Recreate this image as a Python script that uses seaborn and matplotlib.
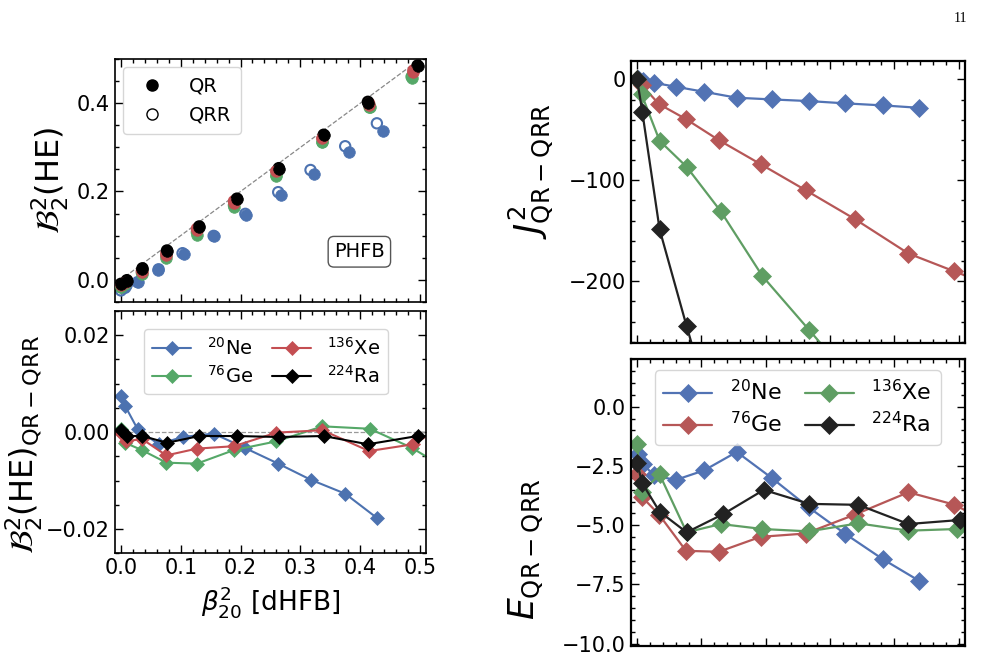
import numpy as np
import matplotlib
matplotlib.use("Agg")
import matplotlib.pyplot as plt
import seaborn as sns
from matplotlib.lines import Line2D
from matplotlib.ticker import MultipleLocator

sns.set_style("ticks")
plt.rcParams['mathtext.fontset'] = 'dejavusans'
plt.rcParams['text.color'] = 'black'
plt.rcParams['axes.labelcolor'] = 'black'
plt.rcParams['xtick.color'] = 'black'
plt.rcParams['ytick.color'] = 'black'

labels = ['$^{20}$Ne', '$^{76}$Ge', '$^{136}$Xe', '$^{224}$Ra']

# ---- left column: beta^2_20 [dHFB] ----
l_ne_x = [0.000, 0.007, 0.028, 0.063, 0.103, 0.155, 0.208, 0.263, 0.317, 0.375, 0.428]
l_ne_x_qr = [0.001, 0.009, 0.028, 0.062, 0.105, 0.156, 0.209, 0.267, 0.323, 0.381, 0.438]
l_ge_x = [0.000, 0.007, 0.035, 0.076, 0.127, 0.189, 0.260, 0.337, 0.416, 0.486, 0.570]
l_xe_x = [0.000, 0.009, 0.035, 0.076, 0.127, 0.189, 0.260, 0.337, 0.415, 0.489, 0.570]
l_ra_x = [0.000, 0.010, 0.036, 0.077, 0.131, 0.194, 0.264, 0.339, 0.413, 0.496, 0.570]

# B^2_2(HE) with QR
ne_qr = [-0.017, -0.013, -0.005, 0.021, 0.059, 0.099, 0.146, 0.192, 0.239, 0.290, 0.337]
ge_qr = [-0.017, -0.010, 0.012, 0.048, 0.101, 0.165, 0.235, 0.313, 0.391, 0.457, 0.530]
xe_qr = [-0.013, -0.006, 0.018, 0.056, 0.112, 0.175, 0.246, 0.321, 0.396, 0.472, 0.540]
ra_qr = [-0.009, -0.002, 0.025, 0.064, 0.120, 0.183, 0.252, 0.328, 0.401, 0.485, 0.560]

# B^2_2(HE)_QR - QRR
ne_d = [0.0075, 0.0054, 0.0006, -0.0025, -0.0010, -0.0003, -0.0033, -0.0065, -0.0098, -0.0127, -0.0177]
ge_d = [0.0006, -0.0022, -0.0037, -0.0063, -0.0065, -0.0037, -0.0019, 0.0012, 0.0007, -0.0032, -0.0095]
xe_d = [-0.0001, -0.0019, -0.0014, -0.0048, -0.0034, -0.0029, -0.0001, 0.0004, -0.0039, -0.0025, 0.0036]
ra_d = [0.0004, -0.0008, -0.0008, -0.0022, -0.0008, -0.0008, -0.0010, -0.0008, -0.0025, -0.0008, -0.0008]

# ---- right column ----
r_ne_x = [0.001, 0.009, 0.026, 0.060, 0.104, 0.155, 0.210, 0.267, 0.324, 0.382, 0.439]
r_ge_x = [0.000, 0.007, 0.034, 0.076, 0.127, 0.192, 0.262, 0.339, 0.422, 0.493, 0.570]
r_xe_x = [0.000, 0.007, 0.035, 0.077, 0.130, 0.195, 0.267, 0.344, 0.422, 0.497, 0.570]
r_ra_x = [0.000, 0.008, 0.035, 0.077, 0.134, 0.197, 0.268, 0.344, 0.422, 0.502]

j_ne = [0, -1.5, -3.4, -7.3, -12.3, -18.2, -19.9, -21.5, -23.8, -25.8, -28.2]
j_ge = [0, -5.6, -24.5, -39.4, -60.2, -84.0, -109.8, -138.6, -172.6, -190.2, -209]
j_xe = [0, -14.9, -60.9, -86.7, -130.7, -195.1, -248.0, -305, np.nan, np.nan, np.nan]
j_ra = [0, -32.1, -148.8, -244.7, -370, np.nan, np.nan, np.nan, np.nan, np.nan]

e_ne = [-2.01, -2.41, -2.90, -3.09, -2.69, -1.91, -3.02, -4.25, -5.37, -6.43, -7.35]
e_ge = [-2.86, -3.79, -4.55, -6.08, -6.12, -5.49, -5.35, -4.55, -3.61, -4.13, -5.2]
e_xe = [-1.59, -3.61, -2.86, -5.30, -4.95, -5.16, -5.26, -4.92, -5.23, -5.16, -5.2]
e_ra = [-2.38, -3.23, -4.43, -5.30, -4.53, -3.51, -4.10, -4.14, -4.95, -4.78]

left_colors = ['#4C72B0', '#55A868', '#C44E52', 'black']
right_colors = ['#5273b4', '#b65757', '#5f9e63', '#222222']

fig = plt.figure(figsize=(9.97, 6.52), dpi=100)
ax1 = fig.add_axes([0.1153, 0.5373, 0.3119, 0.3718])
ax2 = fig.add_axes([0.1153, 0.1514, 0.3119, 0.3716])
ax3 = fig.add_axes([0.6326, 0.4744, 0.3353, 0.4325])
ax4 = fig.add_axes([0.6326, 0.0090, 0.3353, 0.4400])


def style(ax, xmaj, xmin, ymaj, ymin, lw):
    ax.xaxis.set_major_locator(MultipleLocator(xmaj))
    ax.xaxis.set_minor_locator(MultipleLocator(xmin))
    ax.yaxis.set_major_locator(MultipleLocator(ymaj))
    ax.yaxis.set_minor_locator(MultipleLocator(ymin))
    ax.tick_params(which='both', direction='in', top=True, right=True, width=1, labelsize=15)
    ax.tick_params(which='major', length=6)
    ax.tick_params(which='minor', length=3)
    for s in ax.spines.values():
        s.set_linewidth(lw)
        s.set_color('black')


# top left: B^2_2(HE)
left_x = [l_ne_x, l_ge_x, l_xe_x, l_ra_x]
left_qr = [ne_qr, ge_qr, xe_qr, ra_qr]
left_d = [ne_d, ge_d, xe_d, ra_d]
qr_x = [l_ne_x_qr, l_ge_x, l_xe_x, l_ra_x]

ax1.plot([-0.02, 0.52], [-0.02, 0.52], ls='--', color='#888888', lw=0.9, zorder=1)
for x, qr, d, c in zip(left_x, left_qr, left_d, left_colors):
    qrr = np.array(qr) - np.array(d)
    sns.scatterplot(x=x, y=qrr, ax=ax1, s=55, facecolor='none', edgecolor=c, linewidth=1.5, zorder=2)
for x, qr, c in zip(qr_x, left_qr, left_colors):
    sns.scatterplot(x=x, y=qr, ax=ax1, s=70, color=c, edgecolor=c, linewidth=0.5, zorder=3)
ax1.set_xlim(-0.01, 0.51)
ax1.set_ylim(-0.05, 0.5)
style(ax1, 0.1, 0.02, 0.2, 0.05, 1.2)
ax1.set_xticklabels([])
ax1.set_ylabel(r'$\mathcal{B}_2^2$(HE)', fontsize=23)
h = [Line2D([], [], marker='o', ls='', color='black', ms=8),
     Line2D([], [], marker='o', ls='', mfc='none', mec='black', mew=1.0, ms=8)]
ax1.legend(h, ['QR', 'QRR'], loc='upper left', fontsize=14, handletextpad=0.9,
           borderpad=0.5, labelspacing=0.5, borderaxespad=0.4)
ax1.text(0.786, 0.206, 'PHFB', transform=ax1.transAxes, fontsize=14, ha='center', va='center',
         bbox=dict(boxstyle='round,pad=0.3', fc='white', ec='#555555'))

# bottom left: difference
ax2.axhline(0, ls='--', color='#999999', lw=0.9, zorder=1)
for x, d, c, lab in zip(left_x, left_d, left_colors, labels):
    sns.lineplot(x=x, y=d, ax=ax2, color=c, marker='D', markersize=7, mec=c, mew=0.5,
                 lw=1.5, label=lab, sort=False)
ax2.set_xlim(-0.01, 0.51)
ax2.set_ylim(-0.025, 0.025)
style(ax2, 0.1, 0.02, 0.02, 0.005, 1.2)
ax2.set_ylabel(r'$\mathcal{B}_2^2$(HE)$_{\rm QR-QRR}$', fontsize=23)
ax2.yaxis.set_label_coords(-0.225, 0.45)
ax2.set_xlabel(r'$\beta_{20}^2$ [dHFB]', fontsize=19)
ax2.legend(loc='upper center', ncol=2, fontsize=14, handlelength=2.0, columnspacing=1.0,
           labelspacing=0.3, borderpad=0.4, bbox_to_anchor=(0.486, 0.965))

# top right: J^2
right_x = [r_ne_x, r_ge_x, r_xe_x, r_ra_x]
for x, y, c in zip(right_x, [j_ne, j_ge, j_xe, j_ra], right_colors):
    sns.lineplot(x=x, y=y, ax=ax3, color=c, marker='D', markersize=9, mec=c, mew=0.5,
                 lw=1.6, sort=False)
ax3.set_xlim(-0.01, 0.51)
ax3.set_ylim(-261, 18.5)
style(ax3, 0.1, 0.02, 100, 20, 1.6)
ax3.set_xticklabels([])
ax3.set_ylabel(r'$J^2_{\rm QR-QRR}$', fontsize=25)
ax3.yaxis.set_label_coords(-0.225, 0.61)

# bottom right: E
for x, y, c, lab in zip(right_x, [e_ne, e_ge, e_xe, e_ra], right_colors, labels):
    sns.lineplot(x=x, y=y, ax=ax4, color=c, marker='D', markersize=9, mec=c, mew=0.5,
                 lw=1.6, label=lab, sort=False)
ax4.set_xlim(-0.01, 0.51)
ax4.set_ylim(-10.1, 2)
style(ax4, 0.1, 0.02, 2.5, 0.5, 1.6)
ax4.set_xticklabels([])
ax4.set_ylabel(r'$E_{\rm QR-QRR}$', fontsize=25)
ax4.yaxis.set_label_coords(-0.255, 0.34)
ax4.legend(loc='upper center', ncol=2, fontsize=16, handlelength=2.2, columnspacing=1.0,
           labelspacing=0.3, borderpad=0.4, bbox_to_anchor=(0.499, 1.0))

fig.text(0.963, 0.972, '11', family='Liberation Serif', fontsize=10, ha='center', va='center')

fig.savefig('out.png', dpi=100)
